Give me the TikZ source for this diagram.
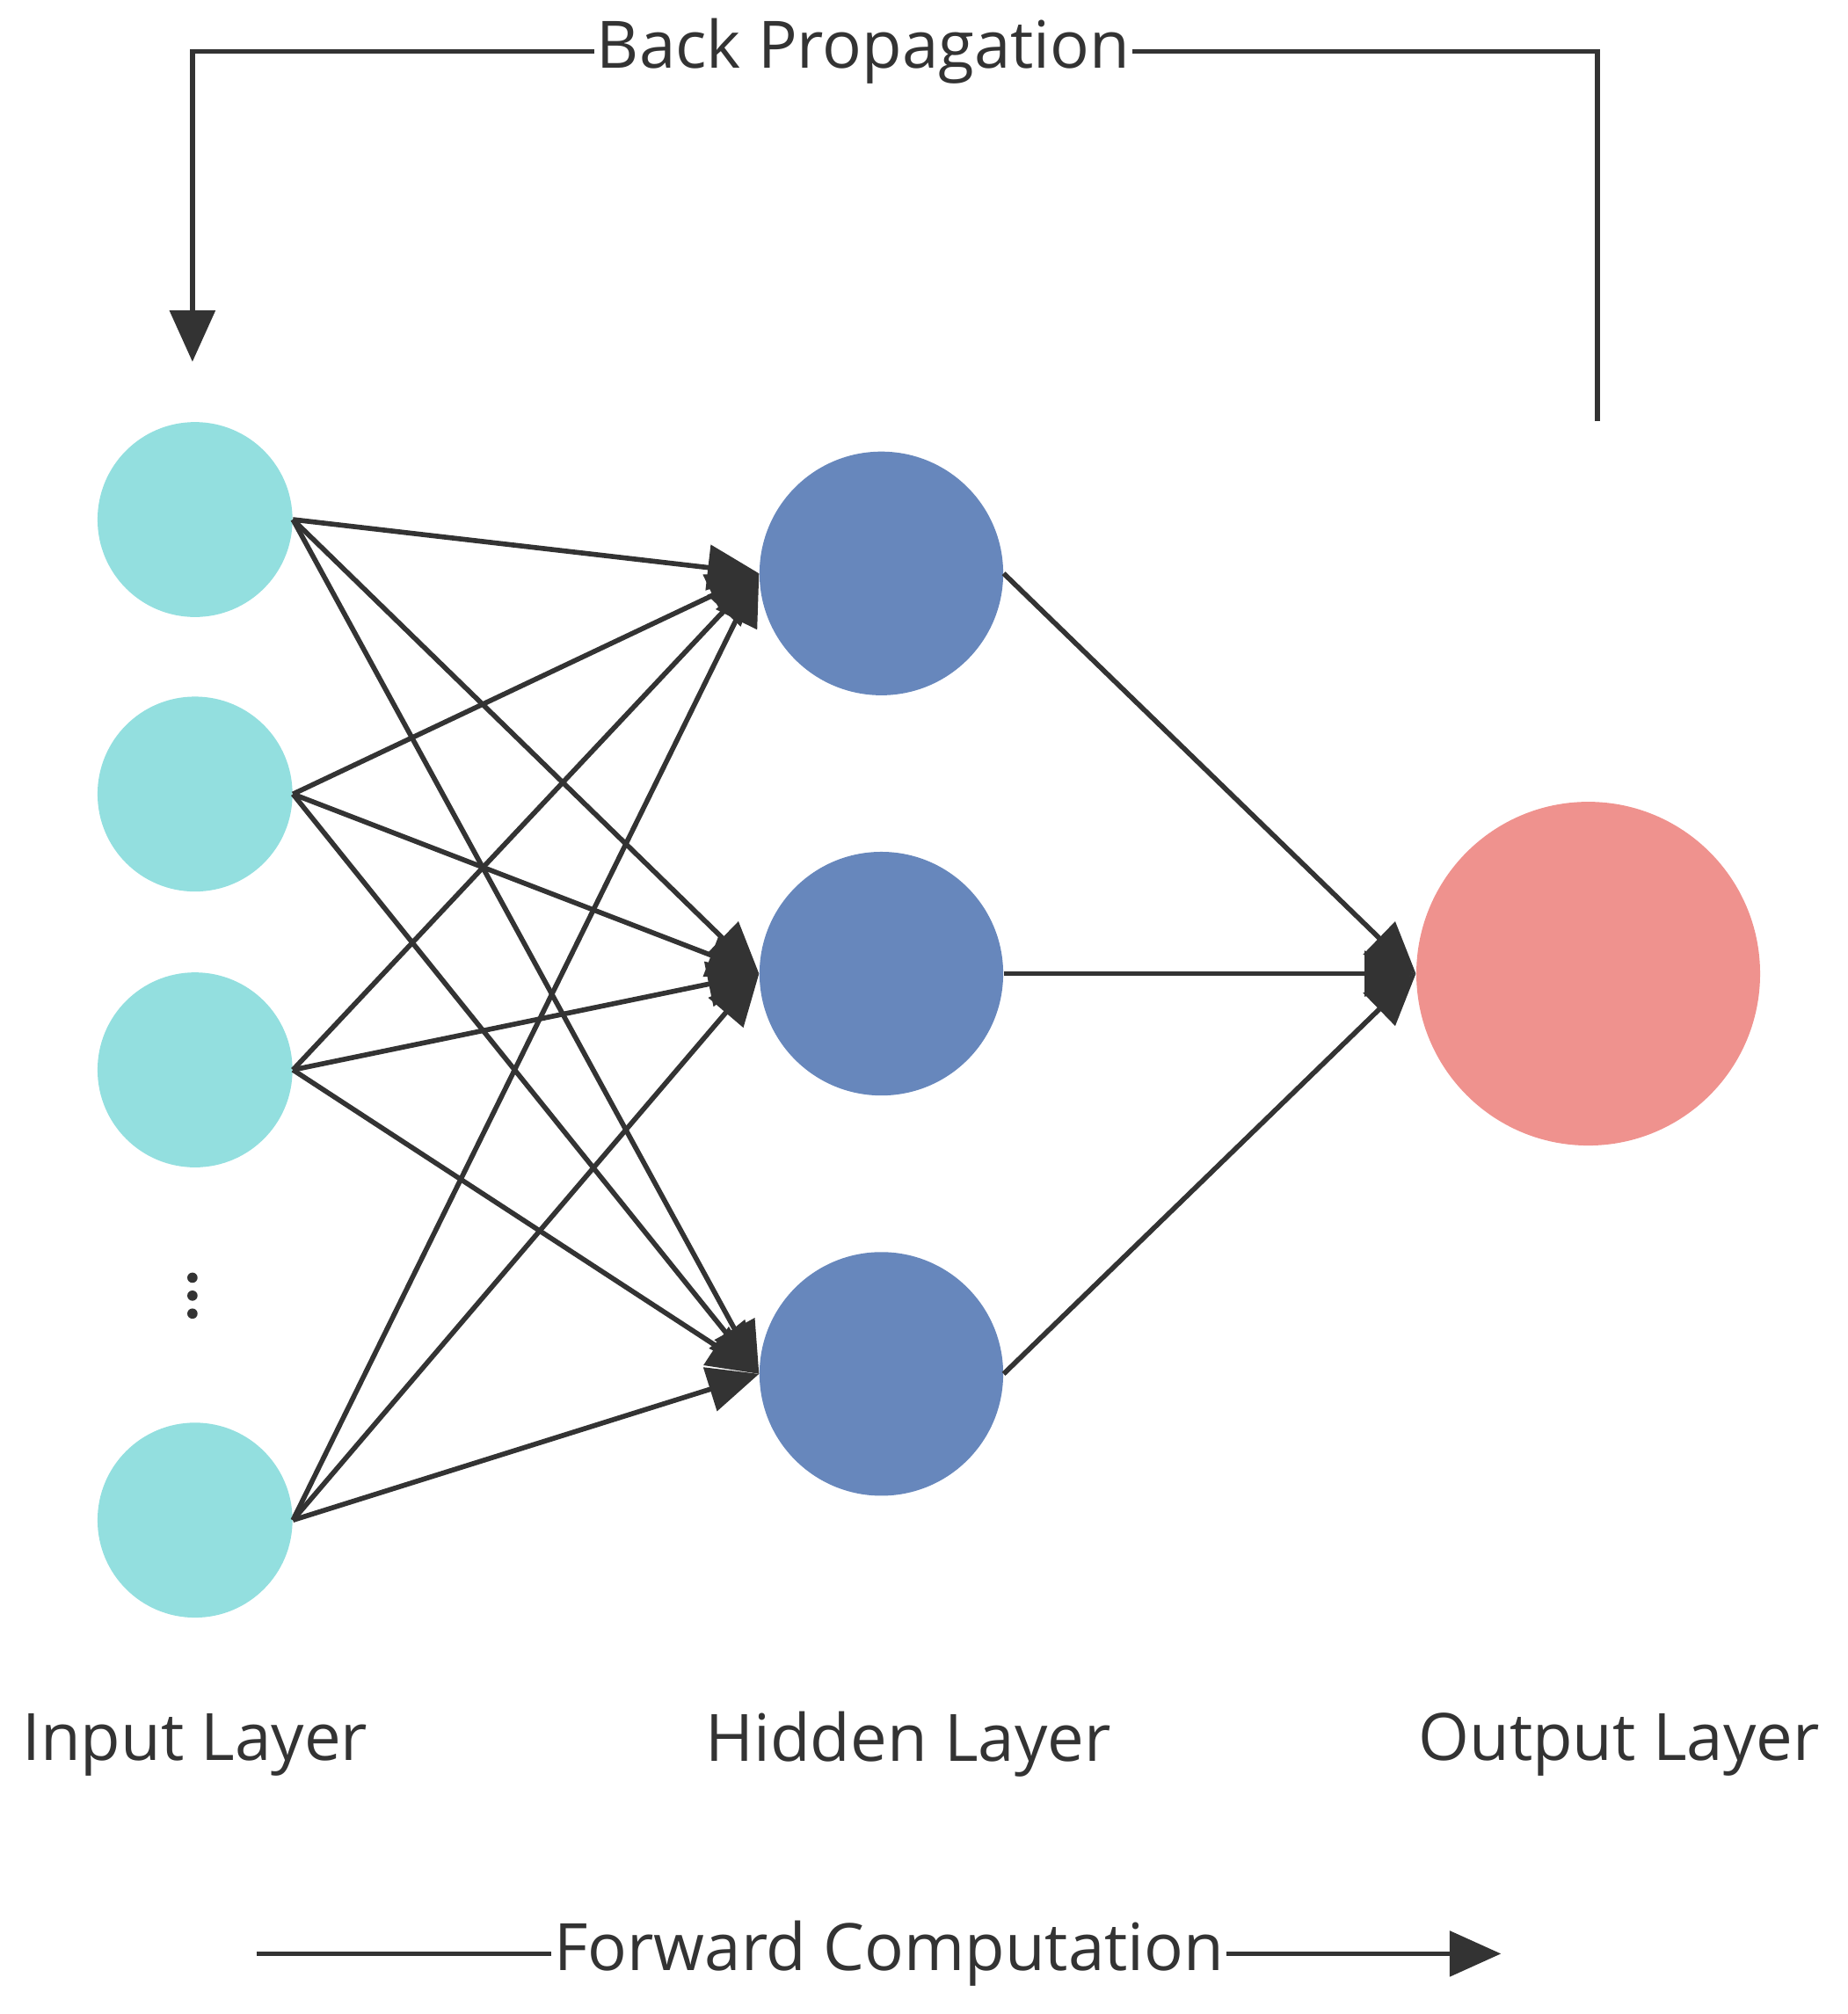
\documentclass[tikz,border=0pt]{standalone}
\usepackage{fontspec}
\setmainfont{Open Sans}
\usetikzlibrary{arrows.meta}
\definecolor{inc}{HTML}{93DFDF}
\definecolor{hid}{HTML}{6787BC}
\definecolor{outc}{HTML}{EF928E}
\definecolor{ln}{HTML}{333333}
\begin{document}
\begin{tikzpicture}[x=0.02cm,y=-0.02cm,
  inn/.style={circle,fill=inc,minimum size=3.04cm,inner sep=0},
  hn/.style={circle,fill=hid,minimum size=3.8cm,inner sep=0},
  on/.style={circle,fill=outc,minimum size=5.36cm,inner sep=0},
  dot/.style={circle,fill=ln,minimum size=0.16cm,inner sep=0},
  ln/.style={draw=ln,line width=2.2pt},
  con/.style={ln,-{Triangle[length=0.8cm,width=0.7cm]}},
  lab/.style={font=\fontsize{29}{34}\selectfont,text=ln}]
\useasboundingbox (0,0) rectangle (1440,1570);
\node[inn] (i1) at (152,405) {};
\node[inn] (i2) at (152,619) {};
\node[inn] (i3) at (152,834) {};
\node[inn] (i4) at (152,1185) {};
\node[dot] (d1) at (150,996) {};
\node[dot] (d2) at (150,1010) {};
\node[dot] (d3) at (150,1024) {};
\node[hn] (h1) at (687,447) {};
\node[hn] (h2) at (687,759) {};
\node[hn] (h3) at (687,1071) {};
\node[on] (o) at (1238,759) {};
\foreach \i in {i1,i2,i3,i4}{\foreach \h in {h1,h2,h3}{\draw[con] (\i.east) -- (\h.west);}}
\foreach \h in {h1,h2,h3}{\draw[con] (\h.east) -- (o.west);}
\node[lab] (li) at (152,1360) {Input Layer};
\node[lab] (lh) at (708,1360) {Hidden Layer};
\node[lab] (lo) at (1262,1360) {Output Layer};
\node[lab,inner sep=1pt] (bp) at (673,40) {Back Propagation};
\coordinate (bs) at (1245,328);
\coordinate (be) at (150,282);
\draw[ln] (bs) |- (bp.east);
\draw[con] (bp.west) -| (be);
\node[lab,inner sep=1pt] (fc) at (693,1523) {Forward Computation};
\coordinate (fs) at (200,1523);
\coordinate (fe) at (1170,1523);
\draw[ln] (fs) -- (fc.west);
\draw[con] (fc.east) -- (fe);
\end{tikzpicture}
\end{document}
